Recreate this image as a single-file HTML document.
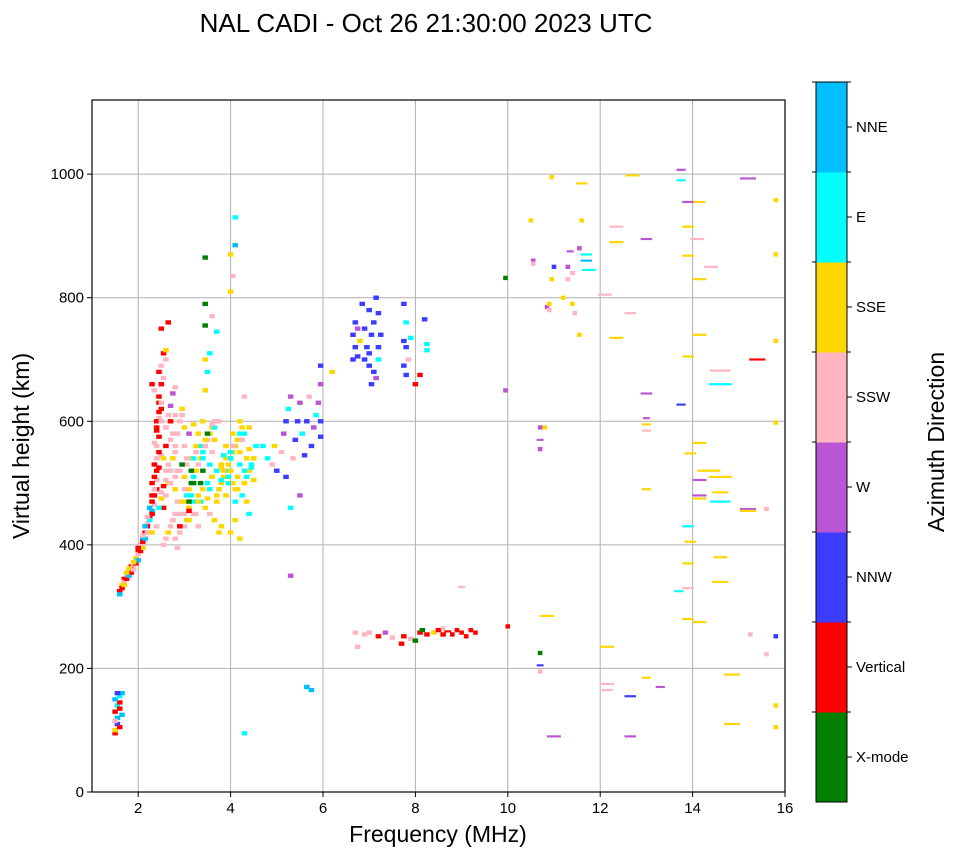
<!DOCTYPE html>
<html><head><meta charset="utf-8"><style>
body{margin:0;background:#fff;font-family:"Liberation Sans","DejaVu Sans",sans-serif;}
svg text{font-family:"Liberation Sans","DejaVu Sans",sans-serif;}
</style></head><body>
<svg id="chart" width="958" height="857" xmlns="http://www.w3.org/2000/svg">
<text x="426" y="32" font-size="26" text-anchor="middle">NAL CADI - Oct 26 21:30:00 2023 UTC</text>
<g id="grid"></g><g id="marks"></g><g id="axes"></g><g id="cbar"></g>
<text x="438" y="842" font-size="23" text-anchor="middle">Frequency (MHz)</text>
<text transform="translate(29,446) rotate(-90)" font-size="23" text-anchor="middle">Virtual height (km)</text>
<text transform="translate(944,442) rotate(-90)" font-size="23" text-anchor="middle">Azimuth Direction</text>
</svg>
<script>
const xTicks=[2,4,6,8,10,12,14,16];
const yTicks=[0,200,400,600,800,1000];
const dirNames=["X-mode","Vertical","NNW","W","SSW","SSE","E","NNE"];
const dirColors=["#008000","#ff0000","#3c3cff","#ba55d3","#ffb6c1","#ffd700","#00ffff","#00bfff"];
const freqs=[1.5,1.5,1.55,1.55,1.5,1.55,1.6,1.5,1.6,1.65,1.55,1.6,1.65,1.5,1.6,
1.6,1.65,1.7,1.75,1.7,1.8,1.85,1.8,1.9,1.95,2.0,2.0,2.05,2.1,2.1,2.15,2.2,2.2,2.25,2.3,2.25,2.3,2.35,2.35,2.3,2.35,2.4,2.35,2.4,2.45,2.4,2.45,2.4,2.5,2.45,2.5,2.45,2.5,2.55,2.45,2.6,2.5,2.65,2.6,1.75,1.9,2.0,2.1,2.15,2.2,2.3,2.4,2.45,2.5,2.5,2.55,2.6,2.6,2.65,2.55,2.6,2.7,2.6,2.7,2.65,2.7,2.75,2.8,2.75,2.8,2.85,2.8,2.85,2.9,2.75,2.8,2.85,2.9,2.95,3.0,3.0,2.95,3.05,3.0,3.1,3.0,2.95,3.1,3.1,3.05,3.15,3.2,3.15,3.2,3.25,3.3,3.2,3.3,3.25,3.3,3.35,3.4,3.4,3.45,3.5,3.4,3.5,3.55,3.6,3.55,3.6,3.65,3.6,3.45,3.5,3.45,3.45,3.45,3.45,3.55,3.75,3.7,3.75,3.8,3.8,3.85,3.9,3.9,3.95,4.0,4.0,4.05,4.05,4.1,4.1,4.15,4.2,4.2,4.25,4.3,4.3,4.35,4.4,4.45,4.5,4.5,4.55,4.1,4.2,4.3,4.0,4.1,4.1,4.0,4.05,4.3,3.7,3.6,
4.7,4.8,4.9,4.95,5.0,5.1,5.15,5.2,5.25,5.3,5.2,5.35,5.4,5.45,5.5,5.55,5.6,5.65,5.7,5.75,5.8,5.85,5.9,5.95,5.95,5.95,5.95,5.5,5.3,5.3,5.65,5.75,6.2,
6.65,6.7,6.65,6.75,6.7,6.8,6.9,6.95,7.0,7.0,7.05,7.1,7.0,7.15,7.2,7.2,7.1,7.05,7.15,6.9,7.25,6.75,6.85,7.2,
7.75,7.8,7.75,7.8,7.85,7.75,7.8,7.9,8.0,8.1,8.2,8.25,8.25,
6.7,6.75,6.9,7.0,7.2,7.35,7.5,7.7,7.75,7.9,8.0,8.1,8.15,8.25,8.4,8.5,8.6,8.7,8.8,8.9,9.0,9.1,9.2,9.3,8.6,9.0,10.0,
9.95,9.95,10.7,10.7,10.7,10.7,10.7,10.7,10.8,10.55,10.55,10.5,10.85,10.9,10.9,10.95,11.0,10.95,11.2,11.3,11.3,11.35,11.4,11.4,11.45,11.55,11.55,11.6,11.6,11.7,11.7,11.75,11.0,10.85,12.15,12.15,12.15,12.1,12.35,12.35,12.35,12.7,12.65,12.65,12.65,13.0,13.0,13.0,13.0,13.0,13.0,13.0,13.3,13.75,13.75,13.75,13.7,13.9,13.9,13.9,13.9,13.95,13.9,13.95,13.9,13.9,13.9,14.15,14.1,14.15,14.15,14.15,14.15,14.15,14.15,14.15,14.4,14.35,14.6,14.6,14.6,14.6,14.6,14.6,14.6,14.85,14.85,15.2,15.4,15.2,15.2,15.6,15.25,15.6,15.8,15.8,15.8,15.8,15.8,15.8,15.8];
const heights=[95,100,110,120,130,140,145,150,155,160,160,135,125,115,105,
320,330,340,345,335,350,355,362,360,370,375,385,390,395,405,410,420,430,440,450,460,470,480,490,500,510,520,530,540,550,560,575,590,600,615,630,640,660,670,680,700,750,760,715,355,372,395,415,430,445,420,430,460,475,485,495,505,520,530,540,560,570,590,600,610,625,645,655,580,550,520,490,470,450,440,410,395,430,470,490,510,530,540,560,580,590,610,470,455,440,480,500,520,540,560,580,595,470,450,430,500,520,540,560,580,600,475,490,510,530,550,570,595,650,680,700,755,790,865,710,420,470,490,505,525,545,560,480,500,520,540,560,580,470,490,510,530,550,570,500,520,540,555,525,540,505,560,440,600,640,870,885,930,810,835,95,745,770,
560,540,530,560,520,550,580,600,620,640,510,540,570,600,630,580,545,600,640,560,590,610,630,660,690,600,575,480,460,350,170,165,680,
700,720,740,750,760,730,700,720,690,710,740,760,780,800,720,700,680,660,670,750,740,705,790,775,
790,760,730,720,700,690,675,735,660,675,765,725,715,
258,235,255,258,252,258,250,240,252,248,245,258,262,255,258,262,255,260,255,262,258,252,262,258,265,332,268,
832,650,225,205,195,590,570,555,590,860,855,925,785,780,790,830,850,995,800,830,850,875,840,790,775,740,880,925,985,860,870,845,90,285,235,175,165,805,890,915,735,998,155,90,775,895,645,605,595,585,490,185,170,1007,990,627,325,955,915,868,705,548,430,405,370,330,280,955,895,830,740,565,505,480,475,275,850,520,682,660,510,485,470,380,340,190,110,993,700,458,455,458,255,223,958,870,730,598,252,140,105];
const dirs=[1,5,2,7,1,6,1,7,6,7,2,1,7,4,1,
7,1,4,1,5,7,1,5,4,1,7,4,1,5,1,7,4,1,6,1,7,1,1,4,1,1,1,1,4,1,4,1,1,4,1,4,1,1,4,1,4,1,1,5,5,5,1,4,7,4,5,4,6,5,4,1,4,4,4,5,1,4,4,1,4,3,3,4,4,4,4,5,4,4,4,4,4,1,5,4,5,0,4,4,3,5,4,0,1,5,6,0,0,6,5,5,5,5,4,4,0,0,6,4,0,5,5,6,5,6,4,5,4,5,6,5,0,0,0,6,5,5,5,6,5,6,5,5,6,5,6,4,5,6,5,5,6,5,4,5,6,5,5,6,5,5,6,5,5,4,5,7,6,5,4,6,6,4,
6,6,4,5,2,4,3,2,6,3,2,4,2,2,3,6,2,2,4,2,3,6,3,3,2,2,2,3,6,3,7,7,5,
2,2,2,3,2,5,2,2,2,2,2,2,2,2,2,6,2,2,3,2,2,2,2,2,
2,6,2,2,4,2,2,6,1,1,2,6,6,
4,4,4,4,1,3,4,1,1,4,0,1,0,1,5,1,1,1,1,1,1,1,1,1,4,4,1,
0,3,0,2,4,3,3,3,5,3,4,5,3,4,5,5,2,5,5,4,3,3,4,5,4,5,3,5,5,7,6,6,3,5,5,4,4,4,5,4,5,5,2,3,4,3,3,3,5,4,5,5,3,3,6,2,6,3,5,5,5,5,6,5,5,4,5,5,4,5,5,5,3,3,5,5,4,5,4,6,5,5,6,5,5,5,5,3,1,3,5,4,4,4,5,5,5,5,2,5,5];
// extra echoes filling the dense low-frequency F-region trace
const denseFreqs=[1.6,1.65,1.7,1.75,1.8,1.85,1.9,1.95,2.0,2.05,2.1,2.15,2.2,2.25,2.3,2.3,2.35,2.4,2.4,2.45,2.5,2.35,2.4,2.45,2.5,2.55,2.6,2.65,2.7,2.75,2.8,2.55,2.6,2.65,2.7,2.75,2.8,2.85,2.9,2.95,3.0,3.05,3.1,3.15,3.2,3.25,3.3,3.35,3.4,3.45,3.5,3.55,3.6,3.65,3.7,3.75,3.8,3.85,3.9,3.95,4.0,4.05,4.1,4.15,4.2,4.25,4.3,4.35,4.4,4.45,4.5,3.0,3.1,3.2,3.3,3.4,3.5,3.6,3.7,3.8,3.9,4.0,4.1,4.2,4.3,4.4,3.05,3.15,3.25,3.35,3.45,3.55,3.65,3.75,3.85,3.95,4.05,4.15,4.25,4.35,2.9,3.0,3.1,3.2,2.7,2.8,2.9,2.6,2.7,2.8,3.35,3.45,3.55,3.65,3.8,4.0,4.2,4.4,2.4,2.45,2.35,2.3,2.5,2.55];
const denseHeights=[325,335,345,350,355,365,368,378,390,400,410,420,435,445,455,480,465,490,505,525,545,565,585,605,620,400,410,420,430,440,450,460,480,500,520,540,560,580,600,620,470,480,490,500,510,520,530,540,550,560,570,580,590,600,480,490,500,510,520,530,540,550,560,570,580,590,500,510,520,530,540,450,460,470,480,490,500,510,520,530,540,550,560,570,580,590,530,540,550,560,570,580,590,600,520,510,500,490,480,470,420,430,440,450,500,510,520,590,600,610,470,460,450,440,430,420,410,450,600,630,650,660,690,710];
const denseDirs=[1,5,1,4,7,1,4,5,1,4,7,1,4,1,7,1,4,1,4,1,4,4,1,4,1,4,4,5,4,4,4,1,4,5,4,5,4,4,4,5,5,6,5,0,6,5,4,5,6,5,4,6,5,4,5,6,5,5,6,5,6,5,6,5,6,5,5,6,5,6,5,4,5,6,5,5,6,5,6,5,5,6,5,5,6,5,4,5,4,6,5,5,6,4,5,6,5,5,6,5,4,4,5,4,4,4,4,4,5,4,6,5,4,5,5,5,5,6,1,1,4,1,4,1];
const hfWidths=[0.15,0.1,0.1,0.1,0.1,0.1,0.1,0.1,0.15,0.1,0.1,0.1,0.1,0.15,0.1,0.1,0.15,0.1,0.1,0.1,0.1,0.1,0.1,0.1,0.1,0.1,0.1,0.1,0.1,0.1,0.1,0.15,0.1,0.1,0.1,0.1,0.1,0.1,0.25,0.25,0.25,0.3,0.3,0.3,0.3,0.3,0.25,0.3,0.3,0.3,0.3,0.3,0.25,0.25,0.25,0.25,0.25,0.15,0.2,0.2,0.2,0.2,0.2,0.2,0.2,0.2,0.2,0.25,0.25,0.25,0.25,0.25,0.25,0.25,0.25,0.25,0.25,0.25,0.3,0.3,0.3,0.3,0.3,0.3,0.3,0.3,0.3,0.5,0.45,0.5,0.5,0.35,0.45,0.3,0.35,0.35,0.35,0.35,0.35,0.35,0.35];
const wideStart=freqs.length-111;
const NS="http://www.w3.org/2000/svg";
const X0=92,X1=785,Y0=792,Y1=100;
const xs=f=>X0+(f-1)/(16-1)*(X1-X0);
const ys=h=>Y0-h/1120*(Y0-Y1);
function mk(tag,attrs,parent){const e=document.createElementNS(NS,tag);for(const k in attrs)e.setAttribute(k,attrs[k]);parent.appendChild(e);return e;}
const grid=document.getElementById('grid'),marks=document.getElementById('marks'),axes=document.getElementById('axes'),cbar=document.getElementById('cbar');
mk('rect',{x:X0,y:Y1,width:X1-X0,height:Y0-Y1,fill:'#fff'},grid);
xTicks.forEach(t=>{const x=xs(t);
 const l=mk('line',{x1:x,x2:x,y1:Y1,y2:Y0,stroke:'#b0b0b0','stroke-width':1},grid);
 
 
 mk('line',{x1:x,x2:x,y1:Y0,y2:Y0+5,stroke:'#000'},axes);
 const tx=mk('text',{x:x,y:Y0+21,'font-size':15,'text-anchor':'middle'},axes);tx.textContent=t;
 
 
});
yTicks.forEach(t=>{const y=ys(t);
 const l=mk('line',{x1:X0,x2:X1,y1:y,y2:y,stroke:'#b0b0b0','stroke-width':1},grid);
 
 
 mk('line',{x1:X0-5,x2:X0,y1:y,y2:y,stroke:'#000'},axes);
 const tx=mk('text',{x:X0-8,y:y+5,'font-size':15,'text-anchor':'end'},axes);tx.textContent=t;
 
 
});
function drawEcho(f,h,d,w){
 const hk=w>0.12?3.5:7;
 const x=xs(f-w/2),x2=xs(f+w/2);
 const r=mk('rect',{x:x,y:ys(h+hk/2),width:x2-x,height:ys(0)-ys(hk),fill:dirColors[d]},marks);
 
 
}
for(let i=0;i<denseFreqs.length;i++) drawEcho(denseFreqs[i],denseHeights[i],denseDirs[i],0.12);
for(let i=0;i<freqs.length;i++){
 const w=i>=wideStart?(hfWidths[i-wideStart]||0.1):0.12;
 drawEcho(freqs[i],heights[i],dirs[i],w);
}
mk('rect',{x:X0,y:Y1,width:X1-X0,height:Y0-Y1,fill:'none',stroke:'#000','stroke-width':1.2},axes);
const CX=816,CW=31,CT=82,CB=802,ch=(CB-CT)/dirNames.length;
dirNames.forEach((n,i)=>{const y=CB-(i+1)*ch;
 const r=mk('rect',{x:CX,y:y,width:CW,height:ch+0.5,fill:dirColors[i]},cbar);
 
 
 mk('line',{x1:CX+CW,x2:CX+CW+5,y1:y+ch/2,y2:y+ch/2,stroke:'#000'},cbar);
 mk('line',{x1:CX+CW,x2:CX+CW+4,y1:y,y2:y,stroke:'#000'},cbar);
 mk('line',{x1:CX-4,x2:CX,y1:y,y2:y,stroke:'#000'},cbar);
 const tx=mk('text',{x:856,y:y+ch/2+5,'font-size':15},cbar);tx.textContent=n;
 
 
});
mk('rect',{x:CX,y:CT,width:CW,height:CB-CT,fill:'none',stroke:'#000','stroke-width':1},cbar);
</script>
</body></html>
